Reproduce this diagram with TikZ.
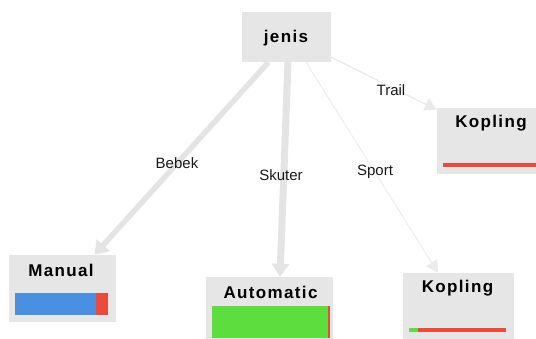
\documentclass[tikz,border=0pt]{standalone}
\usepackage{fontspec}
\setmainfont{Liberation Sans}
\newfontfamily\titlefont[LetterSpace=8]{Liberation Sans}
\usetikzlibrary{arrows.meta,calc}
\definecolor{boxgray}{HTML}{E6E6E6}
\definecolor{edgegray}{HTML}{E4E4E4}
\definecolor{thingray}{HTML}{EBEBEB}
\definecolor{barblue}{HTML}{4A90E2}
\definecolor{barred}{HTML}{E94B3C}
\definecolor{bargreen}{HTML}{5EDE3E}
\tikzset{
  box/.style={fill=boxgray, draw=none, inner sep=0pt, rectangle},
  title/.style={font=\titlefont\fontsize{17}{20}\selectfont\bfseries, inner sep=0pt},
  elabel/.style={font=\fontsize{15}{18}\selectfont, inner sep=0pt, text=black!90},
  thickedge/.style={draw=edgegray, line width=#1, -{Triangle[width=17pt,length=13pt]}},
  thinedge/.style={draw=thingray, line width=#1, -{Triangle[width=13pt,length=12pt]}},
}
\begin{document}
\begin{tikzpicture}[x=1pt,y=-1pt]
\useasboundingbox (0,0) rectangle (536,338);
\begin{scope}
\clip (0,0) rectangle (536,338);
% boxes
\node[box, minimum width=89pt, minimum height=50pt] (jenis) at (286.5,37) {};
\node[box, minimum width=103pt, minimum height=66pt] (kop1) at (488.5,141) {};
\node[box, minimum width=107pt, minimum height=67pt] (manual) at (62.5,288.5) {};
\node[box, minimum width=127pt, minimum height=63pt] (auto) at (269.5,308.5) {};
\node[box, minimum width=111pt, minimum height=67pt] (kop2) at (458.5,306.5) {};
% titles
\node[title] (tjenis) at (286,38) {jenis};
\node[title] (tkop1) at (491,123) {Kopling};
\node[title] (tmanual) at (61,270) {Manual};
\node[title] (tauto) at (270.5,292) {Automatic};
\node[title] (tkop2) at (457.5,288) {Kopling};
% bars
\fill[barblue] (15,293) rectangle (96,315);
\fill[barred] (96,293) rectangle (108,315);
\fill[bargreen] (212,306) rectangle (328,338);
\fill[barred] (328,306) rectangle (330,338);
\fill[barred] (443,163) rectangle (540,167);
\fill[bargreen] (409,328) rectangle (418,332);
\fill[barred] (418,328) rectangle (506,332);
% edges
\draw[thickedge=5.5pt] ($(jenis.south)+(-18,0)$) -- ($(manual.north)+(32,0)$);
\draw[thickedge=7pt] ($(jenis.south)+(1.5,0)$) -- ($(auto.north)+(10.5,0)$);
\draw[thinedge=0.9pt] ($(jenis.south)+(19.5,0)$) -- ($(kop2.north)+(-20.5,0)$);
\draw[thinedge=1.3pt] ($(jenis.south east)+(0,-5)$) -- ($(kop1.north west)+(0,2)$);
% labels
\node[elabel] (lbebek) at (177,163) {Bebek};
\node[elabel] (lskuter) at (281,175) {Skuter};
\node[elabel] (lsport) at (375,172) {Sport};
\node[elabel] (ltrail) at (391,90) {Trail};
\end{scope}
\end{tikzpicture}
\end{document}
